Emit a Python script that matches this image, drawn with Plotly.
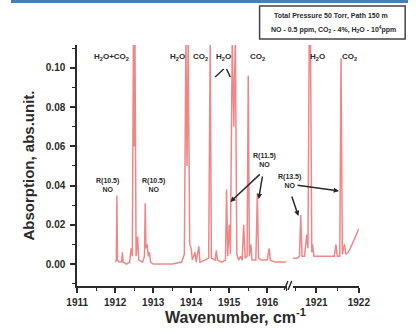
import plotly.graph_objects as go

W, H = 420, 333

# ---- spectrum data ----
left_wn = [1912.00, 1912.03, 1912.045, 1912.06, 1912.10, 1912.17, 1912.19, 1912.21, 1912.30,
           1912.38, 1912.42, 1912.45, 1912.48, 1912.50, 1912.52, 1912.55, 1912.59, 1912.62,
           1912.72, 1912.77, 1912.79, 1912.81, 1912.84, 1912.87, 1912.90, 1912.93, 1913.00,
           1913.20, 1913.50, 1913.75, 1913.82, 1913.86, 1913.89, 1913.92, 1913.96, 1914.00,
           1914.03, 1914.10, 1914.13, 1914.20, 1914.23, 1914.35, 1914.46, 1914.50, 1914.53,
           1914.63, 1914.66, 1914.69, 1914.80, 1914.90, 1914.93, 1914.96, 1915.00, 1915.03,
           1915.08, 1915.12, 1915.16, 1915.20, 1915.25, 1915.30, 1915.34, 1915.38, 1915.42,
           1915.47, 1915.50, 1915.53, 1915.57, 1915.60, 1915.70, 1915.74, 1915.77, 1915.85,
           1916.00, 1916.05, 1916.08, 1916.20, 1916.35, 1916.50]
left_abs = [0.001, 0.002, 0.035, 0.002, 0.001, 0.001, 0.006, 0.001, 0.000,
            0.001, 0.008, 0.004, 0.115, 0.060, 0.115, 0.004, 0.014, 0.002,
            0.001, 0.004, 0.031, 0.008, 0.010, 0.004, 0.006, 0.001, 0.000,
            0.000, 0.000, 0.001, 0.005, 0.115, 0.050, 0.115, 0.010, 0.008,
            0.002, 0.006, 0.001, 0.009, 0.001, 0.002, 0.003, 0.115, 0.003,
            0.002, 0.007, 0.002, 0.001, 0.002, 0.038, 0.004, 0.020, 0.005,
            0.115, 0.070, 0.115, 0.005, 0.002, 0.004, 0.002, 0.020, 0.003,
            0.004, 0.096, 0.004, 0.010, 0.002, 0.002, 0.036, 0.003, 0.002,
            0.002, 0.008, 0.002, 0.001, 0.001, 0.001]

right_wn = [1920.44, 1920.55, 1920.60, 1920.63, 1920.66, 1920.72, 1920.77, 1920.80, 1920.83,
            1920.86, 1920.89, 1920.91, 1920.94, 1921.10, 1921.30, 1921.42, 1921.46, 1921.49,
            1921.55, 1921.58, 1921.61, 1921.66, 1921.69, 1921.75, 1921.82, 1921.90, 1922.00]
right_abs = [0.003, 0.003, 0.004, 0.025, 0.004, 0.004, 0.015, 0.008, 0.115,
             0.115, 0.006, 0.010, 0.004, 0.004, 0.004, 0.004, 0.010, 0.004,
             0.004, 0.105, 0.005, 0.010, 0.005, 0.006, 0.009, 0.013, 0.018]

y_ticks = [0.00, 0.02, 0.04, 0.06, 0.08, 0.10]
y_tick_labels = ["0.00", "0.02", "0.04", "0.06", "0.08", "0.10"]
x_left_ticks = [1911, 1912, 1913, 1914, 1915, 1916]
x_right_ticks = [1921, 1922]

top_labels = ["H<sub>2</sub>O+CO<sub>2</sub>", "H<sub>2</sub>O", "CO<sub>2</sub>", "H<sub>2</sub>O",
              "CO<sub>2</sub>", "H<sub>2</sub>O", "CO<sub>2</sub>"]
no_labels = ["R(10.5)<br>NO", "R(10.5)<br>NO", "R(11.5)<br>NO", "R(13.5)<br>NO"]
info_lines = ["Total Pressure 50 Torr, Path 150 m",
              "NO - 0.5 ppm, CO<sub>2</sub> - 4%, H<sub>2</sub>O - 10<sup>4</sup>ppm"]


def px(x):
    return x / W


def py(y):
    return 1 - y / H


LINE = "#f08787"
INK = "#2a2a2a"
FONT = "Liberation Sans, Arial, sans-serif"

fig = go.Figure()
fig.add_trace(go.Scatter(x=left_wn, y=left_abs, mode="lines", xaxis="x", yaxis="y",
                         line=dict(color=LINE, width=1.5), showlegend=False, hoverinfo="skip"))
fig.add_trace(go.Scatter(x=right_wn, y=right_abs, mode="lines", xaxis="x2", yaxis="y",
                         line=dict(color=LINE, width=1.5), showlegend=False, hoverinfo="skip"))

axis_common = dict(showgrid=False, zeroline=False, showline=True, linecolor=INK, linewidth=1.8,
                   ticks="outside", ticklen=5, tickwidth=1.5, tickcolor=INK,
                   tickfont=dict(family=FONT, size=10, color=INK, weight="bold"))

fig.update_layout(
    width=W, height=H, margin=dict(l=0, r=0, t=0, b=0),
    paper_bgcolor="white", plot_bgcolor="white",
    xaxis=dict(domain=[px(70), px(292)], range=[1911, 1916.52], anchor="y",
               tickvals=x_left_ticks, ticktext=[str(v) for v in x_left_ticks],
               minor=dict(dtick=0.5, tick0=1911, ticks="outside", ticklen=3, tickcolor=INK, tickwidth=1.2),
               ticklabelstandoff=1, **axis_common),
    xaxis2=dict(domain=[px(298), px(368)], range=[1920.44, 1922], anchor="y",
                tickvals=x_right_ticks, ticktext=[str(v) for v in x_right_ticks],
                minor=dict(dtick=0.5, tick0=1920, ticks="outside", ticklen=3, tickcolor=INK, tickwidth=1.2),
                ticklabelstandoff=1, **axis_common),
    yaxis=dict(domain=[1 - 286 / H, 1 - 45 / H], range=[-0.0112, 0.1117], anchor="x",
               tickvals=y_ticks, ticktext=y_tick_labels,
               minor=dict(dtick=0.01, tick0=0, ticks="outside", ticklen=3, tickcolor=INK, tickwidth=1.2),
               ticklabelstandoff=3, **axis_common),
)


def label(text, x, y, size, angle=0):
    return dict(x=px(x), y=py(y), xref="paper", yref="paper", text=text, showarrow=False,
                xanchor="center", yanchor="middle", textangle=angle,
                font=dict(family=FONT, size=size, color=INK, weight="bold"))


ann = []
# axis titles
ann.append(label("Absorption, abs.unit.", 18.5, 165, 15, angle=-90))
ann.append(label("Wavenumber, cm<sup>-1</sup>", 238, 316, 16))

# top peak labels
top_pos = [106, 176, 200, 225, 261, 324, 358]
for t, xp in zip(top_labels, top_pos):
    ann.append(label(t, xp, 57, 8))

# NO labels
no_pos = [(102, 185), (151, 185), (268, 160), (295, 181)]
for t, (xp, yp) in zip(no_labels, no_pos):
    ann.append(label(t, xp, yp, 7))

# arrows (tip, tail)
arrows = [((232, 202), (263, 173)), ((262, 199), (266, 175)),
          ((304, 216), (297, 195)), ((347, 191), (304, 185))]
for (tx, ty), (sx, sy) in arrows:
    ann.append(dict(x=px(tx), y=py(ty), xref="paper", yref="paper", text="", showarrow=True,
                    ax=sx - tx, ay=sy - ty, arrowhead=2, arrowsize=0.7, arrowwidth=1.5,
                    arrowcolor=INK))

# info box text
ann.append(label(info_lines[0], 339, 16, 7))
ann.append(label(info_lines[1], 341, 29, 7))
fig.update_layout(annotations=ann)

shapes = [
    # info box
    dict(type="rect", xref="paper", yref="paper", x0=px(263), x1=px(417), y0=py(39), y1=py(6),
         line=dict(color="#444", width=1.5)),
    # blue scan line at top
    dict(type="line", xref="paper", yref="paper", x0=0, x1=1, y0=py(1.5), y1=py(1.5),
         line=dict(color="#4a7fb3", width=3)),
    # "/\" under H2O
    dict(type="line", xref="paper", yref="paper", x0=px(216), y0=py(77), x1=px(225), y1=py(69),
         line=dict(color=INK, width=1.5)),
    dict(type="line", xref="paper", yref="paper", x0=px(228), y0=py(69), x1=px(232), y1=py(77),
         line=dict(color=INK, width=1.5)),
    # axis break marks
    dict(type="line", xref="paper", yref="paper", x0=px(289), y0=py(290), x1=px(293), y1=py(281),
         line=dict(color=INK, width=1.5)),
    dict(type="line", xref="paper", yref="paper", x0=px(293), y0=py(290), x1=px(297), y1=py(281),
         line=dict(color=INK, width=1.5)),
]
fig.update_layout(shapes=shapes)

fig.write_html("out.html", config={"displayModeBar": False},
               post_script="document.body.style.margin='0';document.body.style.overflow='hidden';")
